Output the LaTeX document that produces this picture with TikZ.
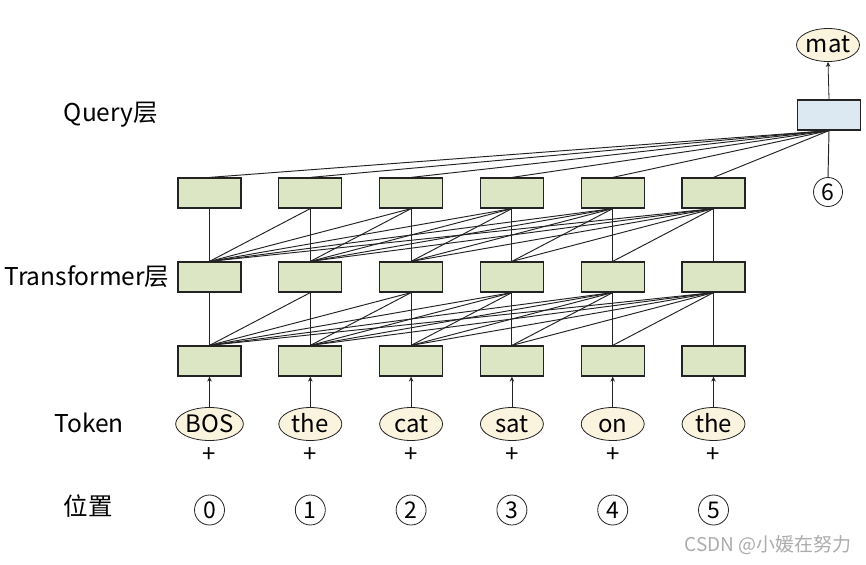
\documentclass[tikz,border=0pt]{standalone}
\usepackage{fontspec}
\setmainfont{Noto Sans CJK SC}
\usetikzlibrary{shapes.geometric,arrows.meta}
\definecolor{boxgreen}{RGB}{220,230,196}
\definecolor{boxblue}{RGB}{220,233,243}
\definecolor{tokcream}{RGB}{250,243,222}
\definecolor{edge}{RGB}{35,35,35}
\tikzset{
  tbox/.style={draw=edge,line width=1.2pt,fill=boxgreen,minimum width=63pt,minimum height=30pt,inner sep=0pt},
  qbox/.style={draw=edge,line width=1.2pt,fill=boxblue,minimum width=63pt,minimum height=30pt,inner sep=0pt},
  tok/.style={ellipse,draw=edge,line width=0.8pt,fill=tokcream,minimum width=63pt,minimum height=33pt,inner sep=0pt,text height=18pt,text depth=2pt,font=\fontsize{24}{24}\selectfont},
  poscirc/.style={circle,draw=edge,line width=0.8pt,minimum size=30pt,inner sep=0pt,font=\fontsize{23}{23}\selectfont},
  lab/.style={font=\fontsize{24.5}{24.5}\selectfont},
  conn/.style={draw=edge,line width=0.95pt},
  arr/.style={draw=edge,line width=0.8pt,-{Stealth[length=5pt,width=4.5pt]}},
  plussign/.style={font=\fontsize{24}{24}\selectfont,inner sep=0pt}
}
\begin{document}
\begin{tikzpicture}[x=1pt,y=-1pt]
\useasboundingbox (0,0) rectangle (866,564);
\fill[white] (0,0) rectangle (866,564);
% labels
\node[lab] (lq) at (111,115) {Query层};
\node[lab] (lt) at (87,277) {Transformer层};
\node[lab] (lk) at (89,423) {Token};
\node[lab] (lp) at (88,506) {位置};
% columns
\foreach \i/\t in {0/BOS,1/the,2/cat,3/sat,4/on,5/the}{
  \pgfmathsetmacro{\xx}{209.5+100.8*\i}
  \node[tbox] (a\i) at (\xx,361) {};
  \node[tbox] (b\i) at (\xx,277) {};
  \node[tbox] (c\i) at (\xx,193) {};
  \node[tok] (t\i) at (\xx,424) {\t};
  \node[plussign] (p\i) at (\xx,455) {+};
  \node[poscirc] (n\i) at (\xx,510) {\i};
}
\node[qbox] (q) at (829,115) {};
\node[tok] (mat) at (828,45) {mat};
\node[poscirc,minimum size=29pt] (n6) at (828,192) {6};
% connections
\foreach \i in {0,...,5}{
  \foreach \j in {\i,...,5}{
    \draw[conn] (a\i.north) -- (b\j.south);
    \draw[conn] (b\i.north) -- (c\j.south);
  }
  \draw[conn] (c\i.north) -- (q.south);
  \draw[arr] (t\i.north) -- (a\i.south);
}
\draw[conn] (n6.north) -- (q.south);
\draw[arr] (q.north) -- (mat.south);
% redraw boxes on top
\foreach \i in {0,...,5}{
  \pgfmathsetmacro{\xx}{209.5+100.8*\i}
  \node[tbox] at (\xx,361) {};
  \node[tbox] at (\xx,277) {};
  \node[tbox] at (\xx,193) {};
}
\node[qbox] at (829,115) {};
% watermark
\node[font=\fontsize{19}{19}\selectfont,text=gray!65] (wm) at (768,545) {CSDN @小媛在努力};
\end{tikzpicture}
\end{document}
